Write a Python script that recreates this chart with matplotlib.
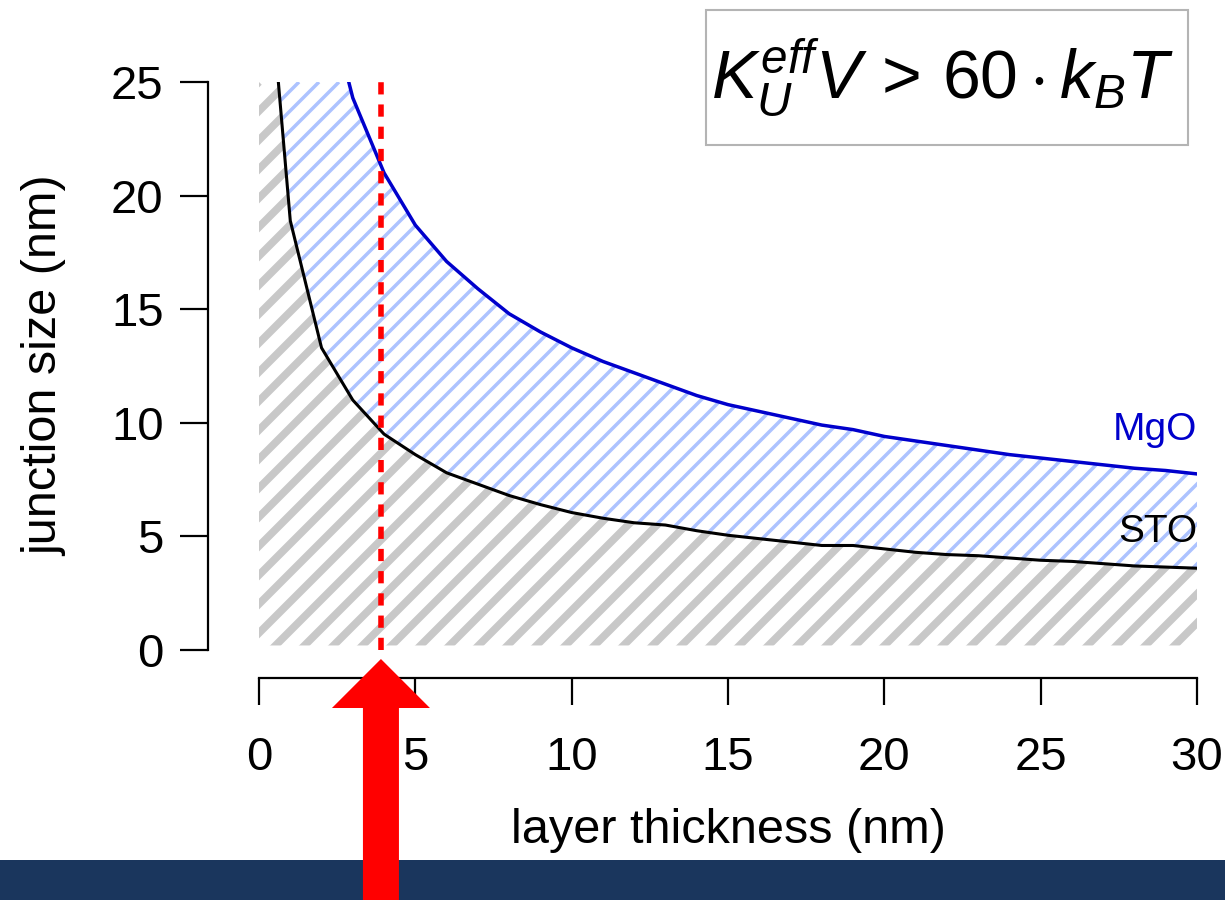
import numpy as np
import matplotlib
matplotlib.use("Agg")
import matplotlib.pyplot as plt
from matplotlib.collections import LineCollection
from matplotlib.patches import Rectangle, FancyArrow

plt.rcParams['font.family'] = 'Liberation Sans'
plt.rcParams['mathtext.fontset'] = 'custom'
plt.rcParams['mathtext.rm'] = 'Liberation Sans'
plt.rcParams['mathtext.it'] = 'Liberation Sans:italic'

# layer thickness (nm) and minimal junction size (nm)
thickness = [0.5, 1, 2, 3, 4, 5, 6, 7, 8, 9, 10, 11, 12, 13, 14, 15,
             16, 17, 18, 19, 20, 21, 22, 23, 24, 25, 26, 27, 28, 29, 30]
sto = [26.9, 18.9, 13.3, 11.0, 9.5, 8.6, 7.8, 7.3, 6.8, 6.4, 6.05, 5.8, 5.6,
       5.5, 5.25, 5.05, 4.9, 4.75, 4.6, 4.6, 4.45, 4.3, 4.2, 4.15, 4.05,
       3.95, 3.9, 3.8, 3.7, 3.65, 3.6]
mgo = [59.0, 42.0, 29.7, 24.3, 21.0, 18.7, 17.1, 15.9, 14.8, 14.0, 13.3,
       12.7, 12.2, 11.7, 11.2, 10.8, 10.5, 10.2, 9.9, 9.7, 9.4, 9.2, 9.0,
       8.8, 8.6, 8.45, 8.3, 8.15, 8.0, 7.9, 7.75]
cut_thickness = 3.9
x_max, y_max = 30, 25
xticks = [0, 5, 10, 15, 20, 25, 30]
yticks = [0, 5, 10, 15, 20, 25]

fig = plt.figure(figsize=(12.25, 9), dpi=100)
ax = fig.add_axes([259 / 1225, 250 / 900, 938 / 1225, 568 / 900])


def hatch_between(ax, x, y1, y2, color, spacing, lw, angle=45):
    """fill_between shaded with diagonal lines (spacing in pixels)"""
    poly = ax.fill_between(x, y1, y2, facecolor='none', edgecolor='none')
    W, H = ax.bbox.width, ax.bbox.height
    dx = spacing / W
    run = H / np.tan(np.radians(angle)) / W
    starts = np.arange(-run - dx, 1 + dx, dx)
    segs = [[(s, 0), (s + run, 1)] for s in starts]
    lc = LineCollection(segs, colors=color, linewidths=lw,
                        transform=ax.transAxes, capstyle='butt')
    ax.add_collection(lc, autolim=False)
    lc.set_clip_path(poly.get_paths()[0], ax.transData)
    return lc


# gray shading below STO, blue shading between STO and MgO
hatch_between(ax, np.r_[0.0, thickness], 0.2, np.r_[y_max, sto],
              '#c8c8c8', 29, 5.5)
hatch_between(ax, thickness, sto, mgo, '#adc3ff', 20, 2.5)

ax.plot(thickness, sto, color='black', lw=2.2)
ax.plot(thickness, mgo, color='#0000cc', lw=2.5)
ax.vlines(cut_thickness, 0, y_max, color='red', lw=4,
          linestyles=(0, (2.2, 1.8)))

ax.text(x_max, 9.7, 'MgO', color='#0000cc', fontsize=28,
        ha='right', va='center')
ax.text(x_max, 5.2, 'STO', color='black', fontsize=28,
        ha='right', va='center')

ax.set_xlim(0, x_max)
ax.set_ylim(0, y_max)
ax.set_xticks(xticks)
ax.set_yticks(yticks)
for side in ['top', 'right']:
    ax.spines[side].set_visible(False)
ax.spines['left'].set_position(('outward', 36.7))
ax.spines['bottom'].set_position(('outward', 20.2))
for side in ['left', 'bottom']:
    ax.spines[side].set_linewidth(1.6)
ax.tick_params(axis='y', length=20, width=1.6, pad=12, labelsize=34)
ax.tick_params(axis='x', length=19.5, width=1.6, pad=22, labelsize=34)
ax.patch.set_visible(False)

ax.set_xlabel('layer thickness (nm)', fontsize=35, va='center')
ax.xaxis.set_label_coords(0.5, -0.317)
ax.set_ylabel('junction size (nm)', fontsize=35, va='center')
ax.yaxis.set_label_coords(-0.229, 0.5)

# overlay in pixel units for the banner, arrow and formula box
ov = fig.add_axes([0, 0, 1, 1], zorder=5)
ov.set_xlim(0, 1225)
ov.set_ylim(900, 0)
ov.axis('off')
ov.patch.set_visible(False)

ov.add_patch(Rectangle((0, 860), 1225, 40, facecolor='#1a365d', lw=0))
px = ax.transData.transform((cut_thickness, 0))[0]
ov.add_patch(FancyArrow(px, 900, 0, -241, width=36, head_width=98,
                        head_length=49, length_includes_head=True,
                        color='#ff0000', lw=0))

ov.add_patch(Rectangle((706, 10), 482, 135, facecolor='white',
                       edgecolor='#b4b4b4', lw=1.5))
ov.text(943, 98, r'$K_U^{eff}V\,>\,60\cdot k_B T$', fontsize=49,
        ha='center', va='baseline')

fig.savefig('out.png', dpi=100)
